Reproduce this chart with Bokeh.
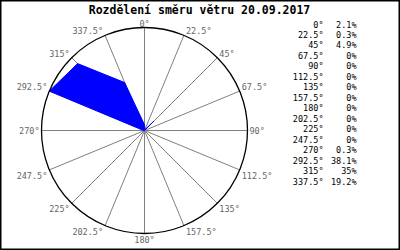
import numpy as np
from bokeh.plotting import figure
from bokeh.models import Range1d, ColumnDataSource, Label
from bokeh.core.properties import value
from bokeh.embed import file_html
from bokeh.resources import INLINE

# ---- data ----
title = "Rozdělení směru větru 20.09.2017"
angles = [0, 22.5, 45, 67.5, 90, 112.5, 135, 157.5, 180, 202.5, 225, 247.5, 270, 292.5, 315, 337.5]
angle_labels = ["0°", "22.5°", "45°", "67.5°", "90°", "112.5°", "135°", "157.5°", "180°",
                "202.5°", "225°", "247.5°", "270°", "292.5°", "315°", "337.5°"]
percent = [2.1, 0.3, 4.9, 0, 0, 0, 0, 0, 0, 0, 0, 0, 0.3, 38.1, 35, 19.2]
percent_labels = ["2.1%", "0.3%", "4.9%", "0%", "0%", "0%", "0%", "0%", "0%", "0%", "0%", "0%",
                  "0.3%", "38.1%", "35%", "19.2%"]

# ---- layout ----
W, H = 400, 250
CX, CY, RPX = 144, 130, 103
RMAX = max(percent)
k = RPX / RMAX  # px per percent unit

def px2x(px):
    return (px - CX) / k

def py2y(py):
    return (CY - py) / k

p = figure(width=W, height=H, output_backend="svg", toolbar_location=None,
           x_range=Range1d(px2x(0), px2x(W)), y_range=Range1d(py2y(H), py2y(0)),
           min_border=0)
p.axis.visible = False
p.grid.visible = False
p.background_fill_color = "white"
p.border_fill_color = "white"
p.outline_line_color = "black"
p.outline_line_width = 2

th = np.radians(angles)
sx, cy = np.sin(th), np.cos(th)

# spokes
p.segment(x0=np.zeros(len(angles)), y0=np.zeros(len(angles)),
          x1=RMAX * sx, y1=RMAX * cy, line_color="#808080", line_width=1)

# data polygon
v = np.array(percent)
p.patch(list(v * sx), list(v * cy), fill_color="#0000FF", line_color="#0000FF", line_width=1)

# outer circle
p.circle(x=[0], y=[0], radius=RMAX, fill_color=None, line_color="black", line_width=1.3)

# angle labels around circle
aligns, bases, xo, yo = [], [], [], []
for s, c in zip(sx, cy):
    if s > 0.01:
        aligns.append("left"); xo.append(2)
    elif s < -0.01:
        aligns.append("right"); xo.append(-2)
    else:
        aligns.append("center"); xo.append(0)
    if c > 0.01:
        bases.append("bottom"); yo.append(1)
    elif c < -0.01:
        bases.append("top"); yo.append(1)
    else:
        bases.append("middle"); yo.append(0)

src = ColumnDataSource(dict(x=RMAX * sx, y=RMAX * cy, t=angle_labels, a=aligns, b=bases, xo=xo, yo=yo))
p.text(x="x", y="y", text="t", source=src, text_align="a", text_baseline="b",
       x_offset="xo", y_offset="yo",
       text_font=value("DejaVu Sans Mono"), text_font_size="8.5px", text_color="#666666")

# table on right
rows = np.arange(len(angles))
ty = [py2y(24 + 10.47 * i) for i in rows]
p.text(x=[px2x(323)] * len(rows), y=ty, text=angle_labels, text_align="right", text_baseline="middle",
       text_font=value("DejaVu Sans Mono"), text_font_size="8.5px", text_color="black")
p.text(x=[px2x(356)] * len(rows), y=ty, text=percent_labels, text_align="right", text_baseline="middle",
       text_font=value("DejaVu Sans Mono"), text_font_size="8.5px", text_color="black")

# title
p.add_layout(Label(x=px2x(199), y=py2y(9), text=title, text_align="center", text_baseline="middle",
                   text_font="DejaVu Sans Mono", text_font_style="bold", text_font_size="11.5px",
                   text_color="black"))

open("out.html", "w").write(file_html(p, INLINE))
